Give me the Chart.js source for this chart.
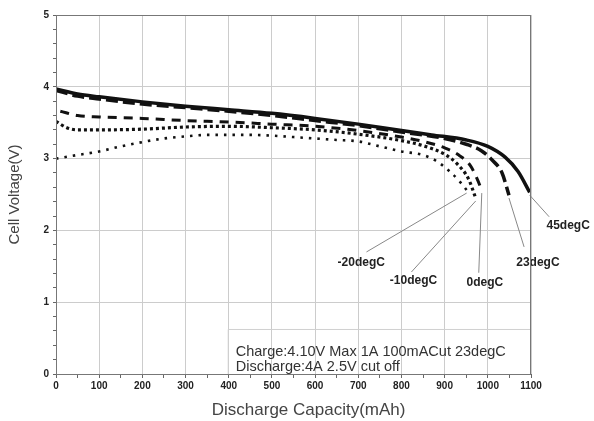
<!DOCTYPE html>
<html>
<head>
<meta charset="utf-8">
<script src="https://cdn.jsdelivr.net/npm/chart.js@4.4.1/dist/chart.umd.min.js"></script>
<style>
  html, body { margin: 0; padding: 0; background: #fff; }
  #wrap { width: 594px; height: 421px; position: relative; }
</style>
</head>
<body>
<div id="wrap"><canvas id="myChart" width="594" height="421"></canvas></div>
<script>
// discharge curves, capacity (mAh) vs cell voltage (V)
const cap45 = [0, 50, 100, 200, 300, 400, 500, 600, 700, 800, 870, 950, 1000, 1040, 1070, 1097];
const volt45 = [3.97, 3.90, 3.86, 3.79, 3.73, 3.68, 3.63, 3.56, 3.48, 3.39, 3.33, 3.26, 3.17, 3.02, 2.82, 2.53];

const cap23 = [0, 50, 100, 200, 300, 400, 500, 600, 700, 800, 900, 950, 985, 1010, 1033, 1049];
const volt23 = [3.95, 3.87, 3.83, 3.76, 3.71, 3.66, 3.60, 3.53, 3.46, 3.37, 3.28, 3.20, 3.11, 2.98, 2.80, 2.49];

const cap0 = [10, 50, 100, 200, 300, 400, 500, 600, 700, 800, 850, 900, 930, 960, 975, 986];
const volt0 = [3.66, 3.60, 3.58, 3.56, 3.53, 3.51, 3.48, 3.45, 3.39, 3.30, 3.24, 3.15, 3.06, 2.90, 2.72, 2.56];

const capM10 = [0, 25, 50, 100, 200, 300, 400, 500, 600, 700, 800, 850, 900, 930, 955, 972];
const voltM10 = [3.52, 3.43, 3.40, 3.40, 3.41, 3.44, 3.45, 3.43, 3.40, 3.34, 3.25, 3.18, 3.06, 2.92, 2.72, 2.45];

const capM20 = [0, 50, 100, 150, 200, 250, 300, 350, 400, 450, 500, 550, 600, 650, 700, 750, 800, 850, 880, 910, 935, 951];
const voltM20 = [3.00, 3.05, 3.10, 3.17, 3.23, 3.28, 3.31, 3.33, 3.33, 3.33, 3.32, 3.30, 3.28, 3.26, 3.24, 3.17, 3.10, 3.05, 2.97, 2.83, 2.68, 2.56];

const seriesNames = ['45degC', '23degC', '0degC', '-10degC', '-20degC'];

// callouts: [text x, text y, line start x, line start y] in data units
const callouts = [
  [1186, 2.06, 1142, 2.19],
  [1116, 1.55, 1084, 1.77],
  [993, 1.27, 979, 1.41],
  [828, 1.30, 823, 1.42],
  [707, 1.55, 719, 1.70]
];

const noteLines = ['Charge:4.10V Max 1A 100mACut 23degC', 'Discharge:4A 2.5V cut off'];
const xTitle = 'Discharge Capacity(mAh)';

function pts(xs, ys) {
  return xs.map((x, i) => ({ x: x, y: ys[i] }));
}

const curveData = [
  pts(cap45, volt45),
  pts(cap23, volt23),
  pts(cap0, volt0),
  pts(capM10, voltM10),
  pts(capM20, voltM20)
];

const styles = [
  { w: 3.5, dash: [] },
  { w: 3.5, dash: [12, 5] },
  { w: 3, dash: [9, 7] },
  { w: 3.2, dash: [3, 3] },
  { w: 2.6, dash: [2.5, 6] }
];

const datasets = seriesNames.map((name, i) => ({
  label: name,
  data: curveData[i],
  borderColor: '#111',
  borderWidth: styles[i].w,
  borderDash: styles[i].dash,
  pointRadius: 0,
  fill: false,
  cubicInterpolationMode: 'monotone'
}));

const fontFam = '"Liberation Sans", Arial, sans-serif';

// frame, callouts, x title and the note box
const extras = {
  id: 'extras',
  afterDatasetsDraw(chart) {
    const ctx = chart.ctx;
    const xs = chart.scales.x;
    const ys = chart.scales.y;
    const area = chart.chartArea;
    ctx.save();

    // note box
    const bx = xs.getPixelForValue(400);
    ctx.strokeStyle = '#d0d0d0';
    ctx.lineWidth = 1;
    ctx.beginPath();
    ctx.moveTo(bx - 0.5, area.bottom);
    ctx.lineTo(bx - 0.5, ys.getPixelForValue(0.62));
    ctx.lineTo(area.right, ys.getPixelForValue(0.62));
    ctx.stroke();
    ctx.fillStyle = '#333';
    ctx.font = '14.5px ' + fontFam;
    ctx.textBaseline = 'middle';
    ctx.textAlign = 'left';
    ctx.fillText(noteLines[0], bx + 7, ys.getPixelForValue(0.31));
    ctx.fillText(noteLines[1], bx + 7, ys.getPixelForValue(0.10));

    // callout leaders and labels
    ctx.font = 'bold 12px ' + fontFam;
    ctx.textAlign = 'center';
    callouts.forEach((c, i) => {
      const d = curveData[i];
      const end = d[d.length - 1];
      ctx.strokeStyle = '#888';
      ctx.lineWidth = 1;
      ctx.beginPath();
      ctx.moveTo(xs.getPixelForValue(c[2]), ys.getPixelForValue(c[3]));
      ctx.lineTo(xs.getPixelForValue(end.x), ys.getPixelForValue(end.y - 0.04));
      ctx.stroke();
      ctx.fillStyle = '#222';
      ctx.fillText(seriesNames[i], xs.getPixelForValue(c[0]), ys.getPixelForValue(c[1]));
    });

    // x axis title, sits a little right of the plot centre
    ctx.fillStyle = '#444';
    ctx.font = '17px ' + fontFam;
    ctx.fillText(xTitle, xs.getPixelForValue(585), area.bottom + 36);

    // plot frame
    ctx.strokeStyle = '#777';
    ctx.lineWidth = 1;
    ctx.strokeRect(area.left + 0.5, area.top + 0.5, area.right - area.left - 1, area.bottom - area.top);
    ctx.restore();
  }
};

const config = {
  type: 'line',
  data: { datasets: datasets },
  options: {
    responsive: false,
    animation: false,
    layout: { padding: { top: 15, right: 63, left: 6, bottom: 0 } },
    plugins: {
      legend: { display: false },
      tooltip: { enabled: false }
    },
    scales: {
      x: {
        type: 'linear',
        min: 0,
        max: 1100,
        ticks: {
          stepSize: 50,
          color: '#222',
          font: { family: fontFam, size: 10, weight: 'bold' },
          padding: 2,
          maxRotation: 0,
          autoSkip: false,
          callback: v => (v % 100 === 0 ? v : '')
        },
        grid: {
          color: c => (c.tick && c.tick.value % 100 === 0 ? '#cccccc' : 'rgba(0,0,0,0)'),
          tickColor: '#666',
          tickLength: 4
        },
        border: { color: '#666' },
        afterFit: s => { s.height = 47; }
      },
      y: {
        min: 0,
        max: 5,
        ticks: {
          stepSize: 0.2,
          color: '#222',
          font: { family: fontFam, size: 10, weight: 'bold' },
          padding: 4,
          autoSkip: false,
          callback: v => (Math.abs(v - Math.round(v)) < 1e-6 ? Math.round(v) : '')
        },
        grid: {
          color: c => (c.tick && Math.abs(c.tick.value - Math.round(c.tick.value)) < 1e-6 ? '#cccccc' : 'rgba(0,0,0,0)'),
          tickColor: '#666',
          tickLength: 3
        },
        border: { color: '#666' },
        title: {
          display: true,
          text: 'Cell Voltage(V)',
          color: '#444',
          font: { family: fontFam, size: 15 },
          padding: { top: 0, bottom: 12 }
        },
        afterFit: s => { s.width = 50; }
      }
    }
  },
  plugins: [extras]
};

const myChart = new Chart(document.getElementById('myChart'), config);
</script>
</body>
</html>
